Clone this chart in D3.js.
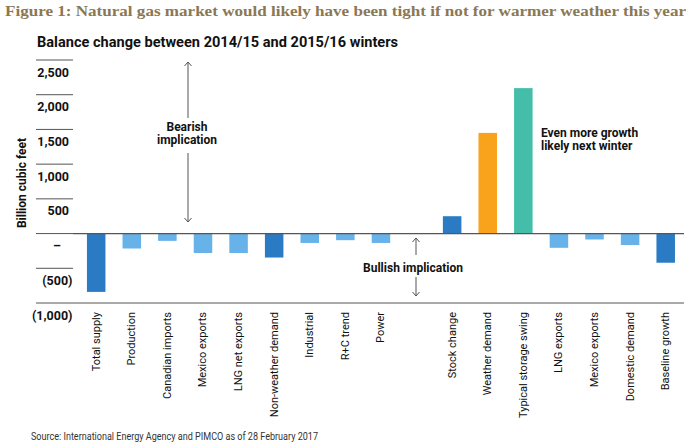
<!DOCTYPE html>
<html>
<head>
<meta charset="utf-8">
<script src="https://cdn.jsdelivr.net/npm/d3@7"></script>
<style>
  html, body { margin: 0; padding: 0; background: #fff; }
  svg { display: block; }
  text { font-family: Roboto, "Liberation Sans", sans-serif; }
</style>
</head>
<body>
<svg id="chart" width="692" height="447"></svg>
<script>
// ---- data ----
const categories = ["Total supply", "Production", "Canadian imports", "Mexico exports", "LNG net exports",
  "Non-weather demand", "Industrial", "R+C trend", "Power", "",
  "Stock change", "Weather demand", "Typical storage swing", "LNG exports", "Mexico exports ",
  "Domestic demand", "Baseline growth"];
const values = [-840, -215, -105, -280, -280, -345, -135, -95, -135, null, 250, 1450, 2095, -205, -85, -165, -420];
const colorGroups = ["dark", "light", "light", "light", "light", "dark", "light", "light", "light", null,
  "dark", "orange", "teal", "light", "light", "light", "dark"];
const yTicks = [-1000, -500, 0, 500, 1000, 1500, 2000, 2500];
const yTickLabels = ["(1,000)", "(500)", "–", "500", "1,000", "1,500", "2,000", "2,500"];

const palette = { dark: "#2a7bc3", light: "#66b2e9", orange: "#f9a21c", teal: "#44bea9" };

const svg = d3.select("#chart");

const x = d3.scaleBand().domain(categories).range([78.4, 683.5]).paddingInner(0.48).paddingOuter(0.24);
const y = d3.scaleLinear().domain([-1000, 2500]).range([303, 60]);

// title
svg.append("text").attr("x", 5).attr("y", 16)
  .style("font-family", "'Liberation Serif', 'DejaVu Serif', serif")
  .style("font-weight", "bold").style("font-size", "14.5px").attr("fill", "#8b7853")
  .attr("textLength", 681).attr("lengthAdjust", "spacingAndGlyphs")
  .text("Figure 1: Natural gas market would likely have been tight if not for warmer weather this year");

svg.append("text").attr("x", 37).attr("y", 47)
  .style("font-weight", "bold").style("font-size", "15px").attr("fill", "#111")
  .attr("textLength", 361).attr("lengthAdjust", "spacingAndGlyphs")
  .text("Balance change between 2014/15 and 2015/16 winters");

// y gridline stubs and labels
const yg = svg.append("g");
yTicks.forEach((t, i) => {
  yg.append("line").attr("x1", 36).attr("x2", 73).attr("y1", y(t)).attr("y2", y(t))
    .attr("stroke", "#555").attr("stroke-width", 1);
  const lab = yTickLabels[i];
  const xEnd = lab.endsWith(")") ? 72.5 : (lab === "–" ? 61 : 69);
  yg.append("text").attr("x", xEnd).attr("y", y(t) + 16.5)
    .attr("text-anchor", "end").style("font-weight", "bold").style("font-size", "12.5px")
    .attr("fill", "#111").text(lab);
});

// full-width bottom line
svg.append("line").attr("x1", 73).attr("x2", 684).attr("y1", y(-1000)).attr("y2", y(-1000))
  .attr("stroke", "#555").attr("stroke-width", 1.2);

// y-axis title
svg.append("text").attr("transform", `translate(26,${183}) rotate(-90)`)
  .attr("text-anchor", "middle").style("font-weight", "bold").style("font-size", "12px")
  .attr("fill", "#111").text("Billion cubic feet");

// bars
const barData = categories.map((c, i) => ({ c, v: values[i], g: colorGroups[i] })).filter(d => d.v !== null);
svg.append("g").selectAll("rect").data(barData).enter().append("rect")
  .attr("x", d => x(d.c)).attr("width", x.bandwidth())
  .attr("y", d => y(Math.max(0, d.v))).attr("height", d => Math.abs(y(d.v) - y(0)))
  .attr("fill", d => palette[d.g]);

// zero line over bars
svg.append("line").attr("x1", 73).attr("x2", 684).attr("y1", y(0)).attr("y2", y(0))
  .attr("stroke", "#555").attr("stroke-width", 1.2);

// category labels
svg.append("g").selectAll("text").data(categories.filter(c => c !== "")).enter().append("text")
  .attr("transform", d => `translate(${x(d) + x.bandwidth() / 2 + 3.5},${312}) rotate(-90)`)
  .attr("text-anchor", "end").style("font-size", "11px").attr("fill", "#111")
  .text(d => d.trim());

// arrows
function arrow(x0, y0, y1) {
  const dir = y1 < y0 ? -1 : 1;
  svg.append("line").attr("x1", x0).attr("x2", x0).attr("y1", y0).attr("y2", y1)
    .attr("stroke", "#555").attr("stroke-width", 1);
  svg.append("path").attr("d", `M${x0 - 3.5},${y1 - dir * 4}L${x0},${y1}L${x0 + 3.5},${y1 - dir * 4}`)
    .attr("fill", "none").attr("stroke", "#555").attr("stroke-width", 1);
}
arrow(188, 118, 62);
arrow(188, 153, 222);
arrow(416, 255, 238);
arrow(416, 277, 296);

const ann = (tx, ty, lines, anchor) => {
  lines.forEach((l, i) => svg.append("text").attr("x", tx).attr("y", ty + i * 12.6)
    .attr("text-anchor", anchor).style("font-weight", "bold").style("font-size", "12px")
    .attr("fill", "#111").text(l));
};
ann(187, 131, ["Bearish", "implication"], "middle");
ann(413, 272, ["Bullish implication"], "middle");
ann(541, 137, ["Even more growth", "likely next winter"], "start");

// source
svg.append("text").attr("x", 31).attr("y", 440).style("font-size", "10px").attr("fill", "#333")
  .attr("textLength", 287).attr("lengthAdjust", "spacingAndGlyphs")
  .text("Source: International Energy Agency and PIMCO as of 28 February 2017");
</script>
</body>
</html>
